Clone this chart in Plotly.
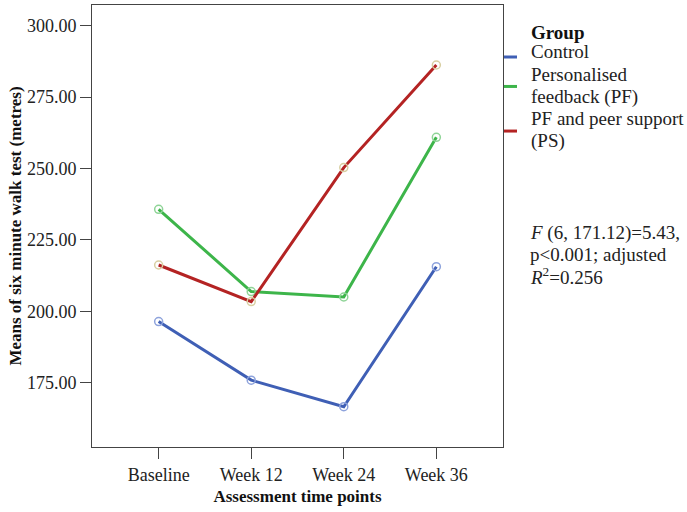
import plotly.graph_objects as go

# time points and group means
time_points = ['Baseline', 'Week 12', 'Week 24', 'Week 36']
control = [196.4, 175.9, 166.6, 215.6]
personalised_fb = [235.7, 206.9, 205.0, 260.9]
pf_peer_support = [216.2, 203.4, 250.3, 286.2]

y_ticks = [175, 200, 225, 250, 275, 300]

group_names = ['Control', 'Personalised feedback (PF)', 'PF and peer support (PS)']
# legend text broken the same way as the picture
legend_lines = [['Control'], ['Personalised', 'feedback (PF)'], ['PF and peer support', '(PS)']]
stats_lines = ['<i>F</i> (6, 171.12)=5.43,', 'p&lt;0.001; adjusted', '<i>R</i><sup>2</sup>=0.256']

serif = 'Liberation Serif'
line_cols = ['#3f5fb5', '#3db54a', '#b42323']
marker_cols = ['#8ea3dc', '#8fd497', '#d8cfa2']

# plot area in pixels (page is 687x512)
L, R, T, B = 92, 503, 5, 447
def px_x(p):
    return (p - L) / (R - L)
def px_y(p):
    return (B - p) / (B - T)

fig = go.Figure()
for name, vals, col, mcol in zip(group_names, [control, personalised_fb, pf_peer_support], line_cols, marker_cols):
    fig.add_trace(go.Scatter(x=time_points, y=vals, name=name, mode='lines',
                             line=dict(color=col, width=3), showlegend=False))
    fig.add_trace(go.Scatter(x=time_points, y=vals, name=name, mode='markers',
                             marker=dict(symbol='circle-open', size=8, color=mcol, line=dict(width=1.5)),
                             showlegend=False))

# hand made legend so it fits in the right margin like the original
ann = [dict(text='<b>Group</b>', xref='paper', yref='paper', x=px_x(529), y=px_y(32),
            xanchor='left', yanchor='middle', showarrow=False,
            font=dict(family=serif, size=19, color='#111111'))]
shapes = []
row = 52
for lines, col in zip(legend_lines, line_cols):
    ys = []
    for t in lines:
        ann.append(dict(text=t, xref='paper', yref='paper', x=px_x(529), y=px_y(row),
                        xanchor='left', yanchor='middle', showarrow=False,
                        font=dict(family=serif, size=19, color='#222222')))
        ys.append(row)
        row += 22.3
    ymid = sum(ys) / len(ys) + (5 if len(ys) == 1 else 1)
    shapes.append(dict(type='line', xref='paper', yref='paper', x0=px_x(504), x1=px_x(517),
                       y0=px_y(ymid), y1=px_y(ymid), line=dict(color=col, width=3)))

row = 233
for t in stats_lines:
    ann.append(dict(text=t, xref='paper', yref='paper', x=px_x(528), y=px_y(row),
                    xanchor='left', yanchor='middle', showarrow=False,
                    font=dict(family=serif, size=19, color='#222222')))
    row += 21.5

fig.update_layout(
    width=687, height=512,
    margin=dict(l=L, r=687 - R, t=T, b=512 - B),
    plot_bgcolor='white',
    paper_bgcolor='white',
    font=dict(family=serif, size=18, color='#222222'),
    showlegend=False,
    annotations=ann,
    shapes=shapes,
)

fig.update_xaxes(
    range=[-0.72, 3.72],
    showline=True, linecolor='#444444', linewidth=1, mirror=True,
    ticks='outside', ticklen=11, tickcolor='#444444',
    showgrid=False, zeroline=False,
    tickfont=dict(family=serif, size=18, color='#222222'),
    title=dict(text='<b>Assessment time points</b>', font=dict(family=serif, size=17, color='#111111'), standoff=6),
)
fig.update_yaxes(
    range=[152.5, 307.2],
    tickvals=y_ticks,
    ticktext=['%.2f' % v for v in y_ticks],
    showline=True, linecolor='#444444', linewidth=1, mirror=True,
    ticks='outside', ticklen=11, tickcolor='#444444',
    showgrid=False, zeroline=False,
    tickfont=dict(family=serif, size=18, color='#222222'),
    title=dict(text='<b>Means of six minute walk test (metres)</b>', font=dict(family=serif, size=17, color='#111111'), standoff=0),
)

# the default page has an 8px body margin, drop it so the chart sits at 0,0
fig.write_html('out.html', config={'displayModeBar': False},
               post_script="document.body.style.margin='0';")
